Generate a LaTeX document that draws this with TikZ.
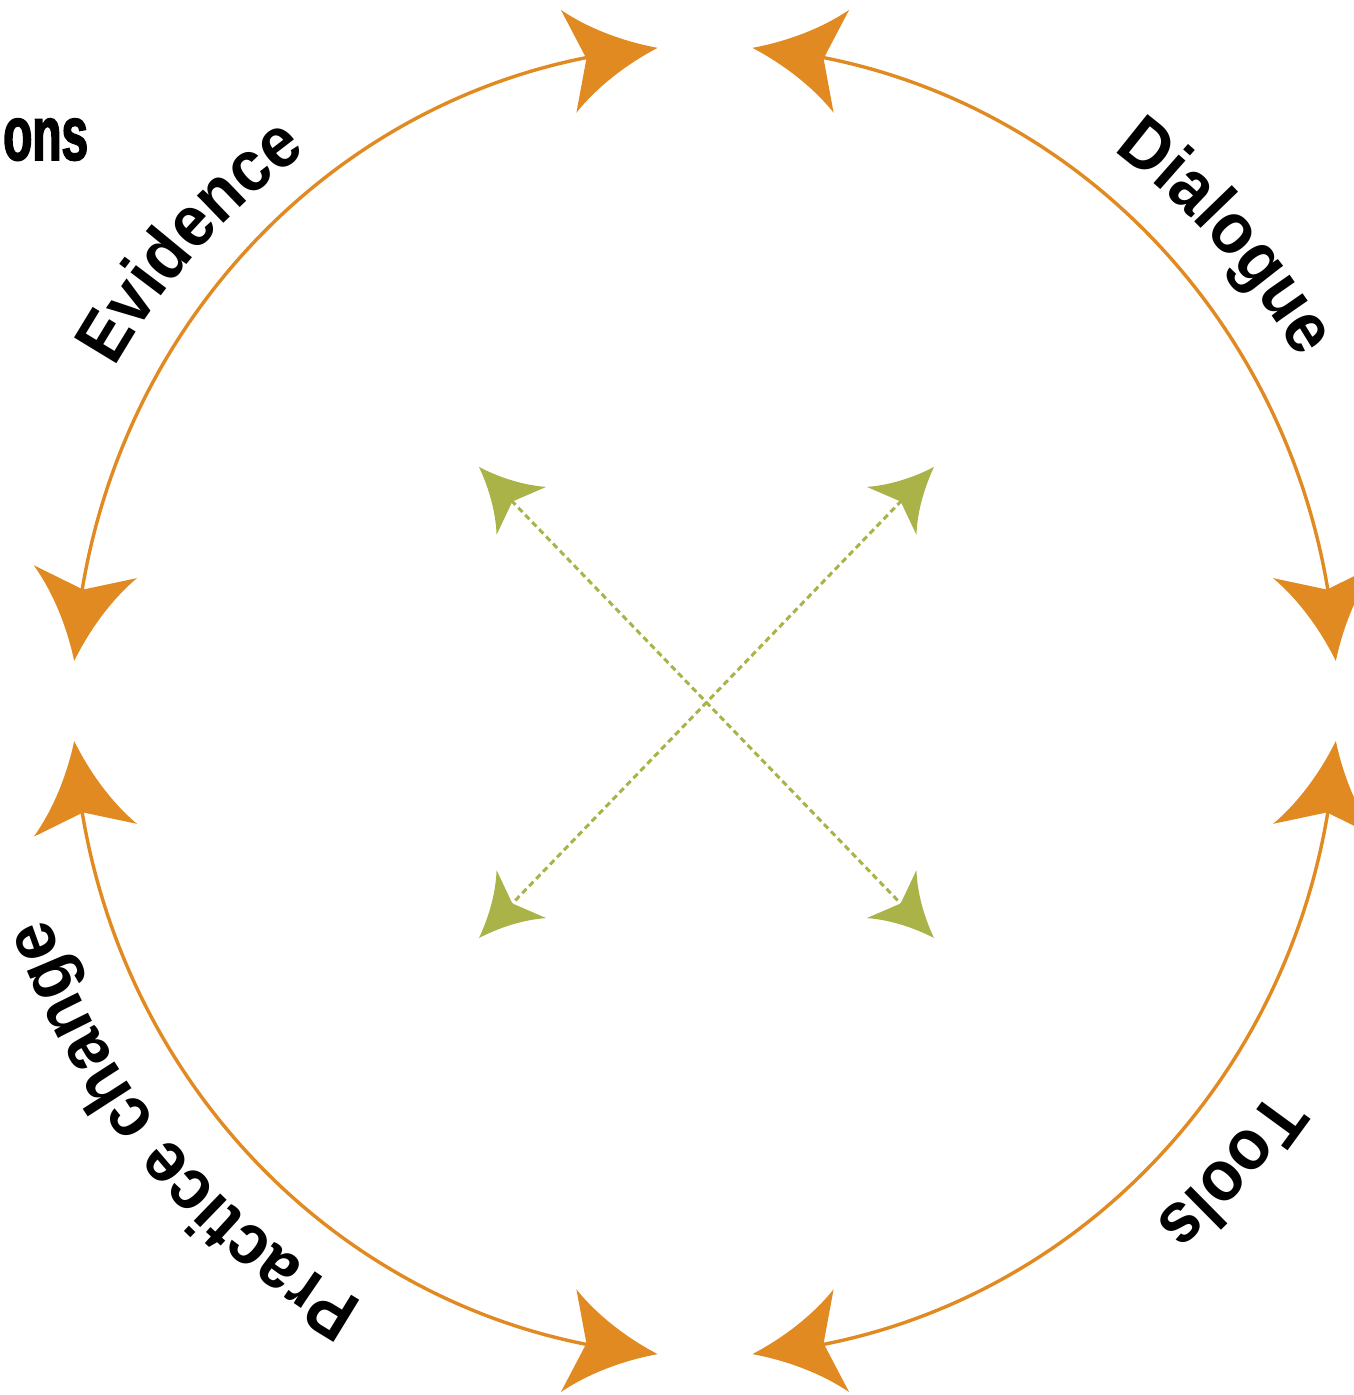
\documentclass[tikz,border=0pt]{standalone}
\usepackage{fontspec}
\setmainfont{Liberation Sans}
\newfontfamily\labfam[FakeStretch=0.92]{Liberation Sans}
\newfontfamily\onsfamily[FakeStretch=0.62,FakeBold=2]{Liberation Sans}
\usetikzlibrary{arrows.meta,bending,decorations.text}
\definecolor{arcorange}{HTML}{E18A21}
\definecolor{arrowgreen}{HTML}{A9B347}
\newcommand\labelfnt{\labfam\bfseries\fontsize{72}{86}\selectfont}
\pgfdeclarearrow{
  name = CStealth,
  defaults = {length=90pt, width=104pt, inset=18pt},
  parameters = {\the\pgfarrowlength,\the\pgfarrowwidth,\the\pgfarrowinset},
  setup code = {
    \pgfarrowssettipend{0pt}
    \pgfarrowssetbackend{-\pgfarrowlength}
    \pgfarrowssetlineend{-.6\pgfarrowlength}
    \pgfarrowsupperhullpoint{0pt}{0pt}
    \pgfarrowsupperhullpoint{-\pgfarrowlength}{.5\pgfarrowwidth}
    \pgfarrowssavethe\pgfarrowlength
    \pgfarrowssavethe\pgfarrowwidth
    \pgfarrowssavethe\pgfarrowinset
  },
  drawing code = {
    \pgfpathmoveto{\pgfqpoint{0pt}{0pt}}
    \pgfpathcurveto{\pgfpoint{-.4\pgfarrowlength}{.12\pgfarrowwidth}}{\pgfpoint{-.75\pgfarrowlength}{.3\pgfarrowwidth}}{\pgfpoint{-\pgfarrowlength}{.5\pgfarrowwidth}}
    \pgfpathlineto{\pgfpoint{-\pgfarrowlength+\pgfarrowinset}{0pt}}
    \pgfpathlineto{\pgfpoint{-\pgfarrowlength}{-.5\pgfarrowwidth}}
    \pgfpathcurveto{\pgfpoint{-.75\pgfarrowlength}{-.3\pgfarrowwidth}}{\pgfpoint{-.4\pgfarrowlength}{-.12\pgfarrowwidth}}{\pgfqpoint{0pt}{0pt}}
    \pgfpathclose
    \pgfusepathqfill
  }
}
\begin{document}
\begin{tikzpicture}[x=1pt,y=1pt,
  orangearc/.style={draw=arcorange, line width=3.4pt,
    arrows={CStealth[flex,color=arcorange]-CStealth[flex,color=arcorange]}},
  greenline/.style={draw=arrowgreen, line width=3pt, dash pattern=on 6pt off 4pt,
    arrows={CStealth[length=61pt,width=69pt,inset=13pt,color=arrowgreen]-CStealth[length=61pt,width=69pt,inset=13pt,color=arrowgreen]}},
  arclabel/.style={decorate, decoration={text along path, text align=center, text={|\labelfnt|#1}}}
]
\useasboundingbox (0,0) rectangle (1354,1395);
\coordinate (C) at (705,694);
% orange arcs
\path (C) ++(94.3:632pt and 655pt) coordinate (tlA);
\path (C) ++(85.7:632pt and 655pt) coordinate (trA);
\path (C) ++(183.5:632pt and 655pt) coordinate (blA);
\path (C) ++(274.3:632pt and 655pt) coordinate (brA);
\draw[orangearc] (tlA) arc[start angle=94.3, end angle=176.5, x radius=632pt, y radius=655pt];
\draw[orangearc] (trA) arc[start angle=85.7, end angle=3.5, x radius=632pt, y radius=655pt];
\draw[orangearc] (blA) arc[start angle=183.5, end angle=265.7, x radius=632pt, y radius=655pt];
\draw[orangearc] (brA) arc[start angle=274.3, end angle=356.5, x radius=632pt, y radius=655pt];
% green dotted arrows
\coordinate (gTL) at (479,928);
\coordinate (gBR) at (934,457);
\coordinate (gTR) at (934,928);
\coordinate (gBL) at (479,457);
\draw[greenline] (gTL) -- (gBR);
\draw[greenline] (gTR) -- (gBL);
% labels along the circle
\path[arclabel=Evidence] (C) ++(183.3:678pt) arc[start angle=183.3, end angle=93.3, radius=678pt];
\path[arclabel=Dialogue] (C) ++(86.7:685pt) arc[start angle=86.7, end angle=-3.3, radius=685pt];
\path[arclabel=Practice change] (C) ++(264.35:691pt) arc[start angle=264.35, end angle=174.35, radius=691pt];
\path[arclabel=Tools] (C) ++(3.2:687pt) arc[start angle=3.2, end angle=-86.8, radius=687pt];
% stray text
\node[anchor=base west, inner sep=0pt, font=\onsfamily\bfseries\fontsize{77}{80}\selectfont] (ons) at (3,1235) {ons};
\end{tikzpicture}
\end{document}
